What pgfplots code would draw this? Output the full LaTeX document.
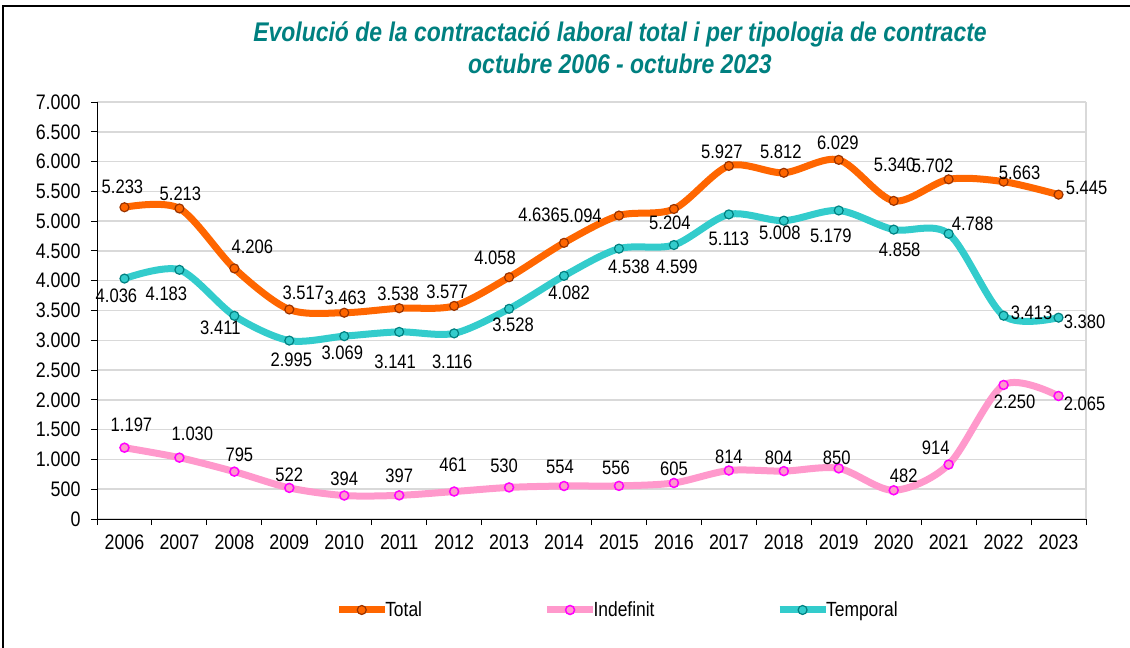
\documentclass[border=0pt]{standalone}
\usepackage{pgfplots}
\pgfplotsset{compat=1.18}
\usepackage{pgfplotstable}
\usepackage{fontspec}
\setmainfont[FakeStretch=0.85]{Liberation Sans}
\definecolor{cTot}{HTML}{FF6600}
\definecolor{cTotE}{HTML}{993300}
\definecolor{cInd}{HTML}{FF99CC}
\definecolor{cIndE}{HTML}{FF00FF}
\definecolor{cTem}{HTML}{33CCCC}
\definecolor{cTemE}{HTML}{008080}
\definecolor{titc}{HTML}{008080}
\definecolor{gridc}{HTML}{D9D9D9}
\pgfkeys{/pgf/number format/.cd, 1000 sep={.}, assume math mode=true}

\pgfplotstableread{
x y dx dy
0 5233 -2 20
1 5213 1 15
2 4206 18 22
3 3517 14 17
4 3463 1 15
5 3538 -1 14
6 3577 -7 14
7 4058 -14 19
8 4636 -25 28
9 5094 -38 0
10 5204 -4 -14
11 5927 -7 14
12 5812 -3 21
13 6029 -1 17
14 5340 1 36
15 5702 -16 14
16 5663 16 9
17 5445 28 7
}\tot

\pgfplotstableread{
x y dx dy
0 1197 7 23
1 1030 13 24
2 795 5 17
3 522 0 13
4 394 0 17
5 397 0 20
6 461 -1 27
7 530 -5 22
8 554 -4 19
9 556 -3 18
10 605 0 14
11 814 0 14
12 804 -5 13
13 850 -2 11
14 482 10 14
15 914 -13 17
16 2250 11 -17
17 2065 26 -8
}\ind

\pgfplotstableread{
x y dx dy
0 4036 -8 -17
1 4183 -13 -24
2 3411 -14 -12
3 2995 2 -19
4 3069 -2 -17
5 3141 -4 -30
6 3116 -2 -28
7 3528 4 -16
8 4082 5 -17
9 4538 10 -18
10 4599 3 -22
11 5113 0 -24
12 5008 -4 -12
13 5179 -8 -25
14 4858 6 -20
15 4788 24 10
16 3413 28 3
17 3380 26 -4
}\tem

\begin{document}
\begin{tikzpicture}
\useasboundingbox (0pt,0pt) rectangle (1130pt,648pt);
\draw[black, line width=1.5pt] (3pt,-2pt) -- (3pt,642pt) -- (1132pt,642pt);
\node[text=titc, font=\fontsize{27}{30}\selectfont\bfseries\itshape] at (620pt,614pt) {Evolució de la contractació laboral total i per tipologia de contracte};
\node[text=titc, font=\fontsize{27}{30}\selectfont\bfseries\itshape] at (620pt,584pt) {octubre 2006 - octubre 2023};
\begin{axis}[
  at={(97pt,129pt)}, anchor=south west, scale only axis,
  width=989pt, height=417pt,
  xmin=-0.5, xmax=17.5, ymin=0, ymax=7000,
  clip=false,
  axis x line*=bottom, axis y line*=left,
  axis line style={black, line width=1pt},
  xtick={0,1,2,3,4,5,6,7,8,9,10,11,12,13,14,15,16,17},
  xticklabels={2006,2007,2008,2009,2010,2011,2012,2013,2014,2015,2016,2017,2018,2019,2020,2021,2022,2023},
  major x tick style={draw=none},
  minor xtick={-0.5,0.5,...,17.5},
  minor x tick style={black, line width=1pt},
  ytick={0,500,...,7000},
  ymajorgrids, grid style={gridc, line width=1.5pt},
  tick align=outside, major tick length=6pt, minor tick length=6pt,
  major y tick style={black, line width=1pt},
  tick label style={font=\fontsize{21}{24}\selectfont},
  yticklabel style={/pgf/number format/fixed, xshift=-7pt},
  xticklabel style={yshift=-6pt},
  legend columns=3,
  legend style={at={(0.2407,-0.2182)}, anchor=west, draw=none, fill=none, inner sep=0pt,
     font=\fontsize{20.5}{23}\selectfont, nodes={inner sep=1pt},
     /tikz/every odd column/.append style={column sep=-4pt},
     /tikz/every even column/.append style={column sep=120.5pt}},
  legend image code/.code={\draw[mark repeat=2,mark phase=2] plot coordinates {(0pt,0pt) (23pt,0pt) (46pt,0pt)};},
  lbl/.style={nodes near coords,
    visualization depends on={\thisrow{dx}\as\dx},
    visualization depends on={\thisrow{dy}\as\dy},
    every node near coord/.append style={anchor=center, xshift=\dx pt, yshift=\dy pt, font=\fontsize{19.5}{22}\selectfont, text=black, inner sep=0pt}},
]
\draw[gridc, line width=1.5pt] (rel axis cs:1,0) -- (rel axis cs:1,1);
\addplot[cTot, line width=7pt, smooth, mark=*, mark size=4.5pt, mark options={fill=cTot, draw=cTotE, line width=1.2pt}, lbl] table[x=x,y=y]{\tot};
\addlegendentry{Total}
\addplot[cInd, line width=7pt, smooth, mark=*, mark size=4.5pt, mark options={fill=cInd, draw=cIndE, line width=1.5pt}, lbl] table[x=x,y=y]{\ind};
\addlegendentry{Indefinit}
\addplot[cTem, line width=7pt, smooth, mark=*, mark size=4.5pt, mark options={fill=cTem, draw=cTemE, line width=1.2pt}, lbl] table[x=x,y=y]{\tem};
\addlegendentry{Temporal}
\end{axis}
\end{tikzpicture}
\end{document}
